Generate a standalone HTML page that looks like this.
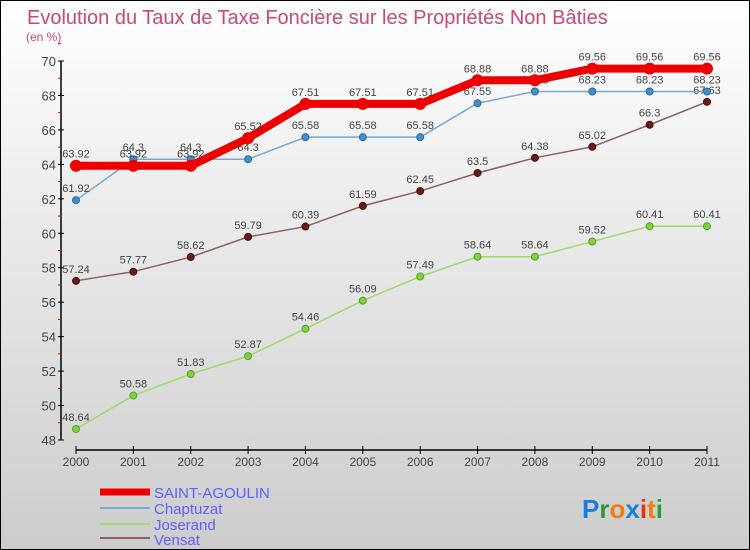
<!DOCTYPE html>
<html><head><meta charset="utf-8"><style>
body{margin:0;}
#wrap{width:750px;height:550px;position:relative;box-sizing:border-box;border:1px solid #000;background:linear-gradient(#fff,#ccc);overflow:hidden;font-family:"Liberation Sans",sans-serif;}
</style></head><body>
<div id="wrap">
<svg id="svg" width="750" height="550" style="position:absolute;left:-1px;top:-1px">
<text x="27" y="24" font-size="20" fill="#c8487a">Evolution du Taux de Taxe Foncière sur les Propriétés Non Bâties</text>
<text x="26" y="41" font-size="12" fill="#c8487a">(en %)</text>
<g id="axes"></g><g id="series"></g>
<g>
<line x1="100" y1="492" x2="150" y2="492" stroke="#e00" stroke-width="7"/>
<text x="154" y="498" font-size="15" fill="#6060ff">SAINT-AGOULIN</text>
<line x1="100" y1="508" x2="150" y2="508" stroke="#7aa7cc" stroke-width="2"/>
<text x="154" y="514" font-size="15" fill="#6060ff">Chaptuzat</text>
<line x1="100" y1="524" x2="150" y2="524" stroke="#9dd96e" stroke-width="2"/>
<text x="154" y="530" font-size="15" fill="#6060ff">Joserand</text>
<line x1="100" y1="538" x2="150" y2="538" stroke="#8b6161" stroke-width="2"/>
<text x="154" y="545" font-size="15" fill="#6060ff">Vensat</text>
</g>
<text x="582" y="518" font-size="26" font-weight="bold"><tspan fill="#1a7fd6">P</tspan><tspan fill="#2a9a3a">r</tspan><tspan fill="#f07b10">o</tspan><tspan fill="#1a7fd6">x</tspan><tspan fill="#e63020">i</tspan><tspan fill="#f07b10">t</tspan><tspan fill="#2a9a3a">i</tspan></text>
</svg>
</div>
<script>
const years=[2000,2001,2002,2003,2004,2005,2006,2007,2008,2009,2010,2011];
const saint=[63.92,63.92,63.92,65.52,67.51,67.51,67.51,68.88,68.88,69.56,69.56,69.56];
const chap=[61.92,64.3,64.3,64.3,65.58,65.58,65.58,67.55,68.23,68.23,68.23,68.23];
const jose=[48.64,50.58,51.83,52.87,54.46,56.09,57.49,58.64,58.64,59.52,60.41,60.41];
const vens=[57.24,57.77,58.62,59.79,60.39,61.59,62.45,63.5,64.38,65.02,66.3,67.63];
const yTicks=[48,50,52,54,56,58,60,62,64,66,68,70];
const NS="http://www.w3.org/2000/svg";
const X=i=>76+i*(631/11);
const Y=v=>61+(70-v)*(379/22);
function mk(t,a,p){const e=document.createElementNS(NS,t);for(const k in a)e.setAttribute(k,a[k]);p.appendChild(e);return e;}
const ax=document.getElementById('axes');
const yl=mk('line',{x1:61,y1:Y(70),x2:61,y2:Y(48),stroke:'#000','stroke-width':1.5},ax);


const xl=mk('line',{x1:X(0),y1:450,x2:X(11),y2:450,stroke:'#000','stroke-width':1.5},ax);


yTicks.forEach(v=>{
 mk('line',{x1:58,y1:Y(v),x2:64,y2:Y(v),stroke:'#000'},ax);
 mk('line',{x1:58,y1:Y(v+1),x2:61,y2:Y(v+1),stroke:'#e00'},ax);
 const t=mk('text',{x:56,y:Y(v)+5,'font-size':13,fill:'#444','text-anchor':'end'},ax);t.textContent=v;
 
 
});
years.forEach((yr,i)=>{
 mk('line',{x1:X(i),y1:446,x2:X(i),y2:454,stroke:'#000'},ax);
 const t=mk('text',{x:X(i),y:466,'font-size':12,fill:'#444','text-anchor':'middle'},ax);t.textContent=yr;
 
 
});
const sg=document.getElementById('series');
function series(d,name,col,w,dot,dotStroke,r){
 const g=mk('g',{},sg);
 
 
 const pl=mk('polyline',{points:d.map((v,i)=>X(i)+','+Y(v)).join(' '),fill:'none',stroke:col,'stroke-width':w,'stroke-linejoin':'round'},g);
 
 
 d.forEach((v,i)=>{
  const c=mk('circle',{cx:X(i),cy:Y(v),r:r,fill:dot,stroke:dotStroke},g);
  
  
  const t=mk('text',{x:X(i),y:Y(v)-8,'font-size':11,fill:'#444','text-anchor':'middle'},g);t.textContent=v;
  
  
 });
}
series(jose,'joserand','#9dd96e',1.5,'#7ed23a','#5a9a2a',3.5);
series(vens,'vensat','#8b6161',1.5,'#6a1a1a','#4a1010',3.5);
series(chap,'chaptuzat','#7aa7cc',1.5,'#3f8fd0','#2a6aa0',3.5);
series(saint,'saint-agoulin','#ee0000',8,'#ee0000','#ee0000',5.5);
</script>
</body></html>
